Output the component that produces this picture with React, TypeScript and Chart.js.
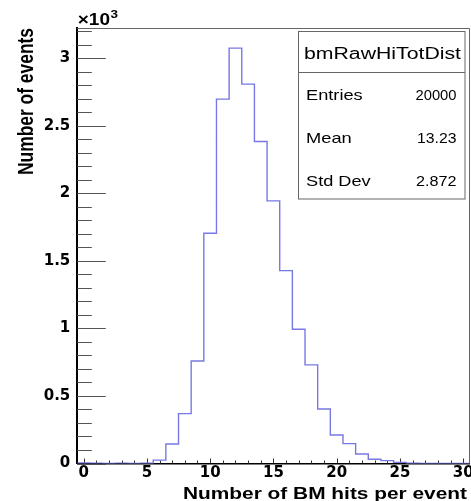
import { useEffect, useRef } from "react";
import { Chart, registerables } from "chart.js";

Chart.register(...registerables);

// ---- data ----
const binCenters = [0, 1, 2, 3, 4, 5, 6, 7, 8, 9, 10, 11, 12, 13, 14, 15, 16, 17, 18, 19, 20, 21, 22, 23, 24, 25, 26, 27, 28, 29, 30];
const binCounts = [4, 3, 1, 3, 1, 2, 25, 144, 369, 759, 1705, 2698, 3075, 2809, 2384, 1944, 1428, 994, 730, 404, 211, 147, 70, 31, 21, 8, 2, 0, 1, 0, 0];
const binWidth = 1;
const xMin = -0.5;
const xMax = 30.5;
const yMin = 0;
const yMax = 3222;
const xLabelValues = [0, 5, 10, 15, 20, 25, 30];
const xMinorStep = 1;
const yLabelValues = [0, 500, 1000, 1500, 2000, 2500, 3000];
const yLabelTexts = ["0", "0.5", "1", "1.5", "2", "2.5", "3"];
const yMinorStep = 100;
const histName = "bmRawHiTotDist";
const statLabels = ["Entries", "Mean", "Std Dev"];
const statValues = ["20000", "13.23", "2.872"];
const xTitle = "Number of BM hits per event";
const yTitle = "Number of events";
const yExponentBase = "\u00d710";
const yExponent = "3";

function drawFit(ctx: CanvasRenderingContext2D, text: string, left: number, baseline: number, width: number, font: string) {
  ctx.save();
  ctx.font = font;
  const w = ctx.measureText(text).width;
  ctx.translate(left, baseline);
  ctx.scale(width / w, 1);
  ctx.textAlign = "left";
  ctx.textBaseline = "alphabetic";
  ctx.fillStyle = "#000";
  ctx.fillText(text, 0, 0);
  ctx.restore();
}

const rootStyle = {
  id: "rootStyle",
  beforeDatasetsDraw(chart: any) {
    const { ctx, chartArea } = chart;
    const xs = chart.scales.x;
    const ys = chart.scales.y;
    ctx.save();
    // frame top and right
    ctx.strokeStyle = "#666";
    ctx.lineWidth = 1;
    ctx.beginPath();
    ctx.moveTo(chartArea.left, Math.round(chartArea.top) + 0.5);
    ctx.lineTo(Math.round(chartArea.right) - 0.5, Math.round(chartArea.top) + 0.5);
    ctx.lineTo(Math.round(chartArea.right) - 0.5, chartArea.bottom);
    ctx.stroke();
    // y ticks (inside)
    ctx.strokeStyle = "#555";
    ctx.lineWidth = 1;
    ys.ticks.forEach((t: any) => {
      const major = yLabelValues.includes(t.value);
      const len = major ? 28.5 : 14.5;
      const y = Math.round(ys.getPixelForValue(t.value)) + 0.5;
      ctx.beginPath();
      ctx.moveTo(chartArea.left, y);
      ctx.lineTo(chartArea.left + len, y);
      ctx.stroke();
    });
    // x ticks (inside)
    ctx.strokeStyle = "#333";
    xs.ticks.forEach((t: any) => {
      const major = xLabelValues.includes(t.value);
      const len = major ? 5 : 3;
      const x = Math.round(xs.getPixelForValue(t.value)) + 0.5;
      ctx.beginPath();
      ctx.moveTo(x, chartArea.bottom);
      ctx.lineTo(x, chartArea.bottom - len);
      ctx.stroke();
    });
    ctx.restore();
  },
  afterDraw(chart: any) {
    const { ctx } = chart;
    ctx.save();
    // stats box
    const bx = 298.5, by = 31.5, bw = 166.5, bh = 167.5;
    ctx.fillStyle = "#fff";
    ctx.fillRect(bx, by, bw, bh);
    ctx.strokeStyle = "#666";
    ctx.lineWidth = 1;
    ctx.strokeRect(bx, by, bw, bh);
    ctx.beginPath();
    ctx.moveTo(bx, 72.5);
    ctx.lineTo(bx + bw, 72.5);
    ctx.stroke();
    const reg = "15px 'Liberation Sans', Arial, sans-serif";
    drawFit(ctx, histName, 304, 59.3, 157, "16px 'Liberation Sans', Arial, sans-serif");
    const rowBase = [100, 142.5, 186];
    const labelW = [56.7, 45.7, 64.7];
    const valW = [41, 39.5, 40.5];
    statLabels.forEach((s, i) => drawFit(ctx, s, 306, rowBase[i], labelW[i], reg));
    statValues.forEach((s, i) => drawFit(ctx, s, 456.5 - valW[i], rowBase[i], valW[i], reg));
    // axis titles
    const bold = (n: number) => `bold ${n}px 'Liberation Sans', Arial, sans-serif`;
    drawFit(ctx, xTitle, 183, 498.5, 284, bold(16.5));
    drawFit(ctx, yExponentBase, 77.7, 25, 32.3, bold(16));
    drawFit(ctx, yExponent, 110.5, 18, 7.5, bold(11));
    // y title rotated
    ctx.save();
    ctx.font = bold(17);
    const w = ctx.measureText(yTitle).width;
    ctx.translate(32.5, 175);
    ctx.rotate(-Math.PI / 2);
    ctx.scale(147 / w, 1.35);
    ctx.fillStyle = "#000";
    ctx.textAlign = "left";
    ctx.textBaseline = "alphabetic";
    ctx.fillText(yTitle, 0, 0);
    ctx.restore();
    ctx.restore();
  },
};

export default function App() {
  const ref = useRef<HTMLCanvasElement | null>(null);

  useEffect(() => {
    if (!ref.current) return;
    // histogram outline: one point at each bin's low edge, held across the bin
    const points = binCenters.map((c, i) => ({ x: c - binWidth / 2, y: binCounts[i] }));
    points.push({ x: binCenters[binCenters.length - 1] + binWidth / 2, y: binCounts[binCounts.length - 1] });

    const xTickVals: number[] = [];
    for (let v = Math.ceil(xMin); v <= xMax; v += xMinorStep) xTickVals.push(v);
    const yTickVals: number[] = [];
    for (let v = yMin; v <= yMax; v += yMinorStep) yTickVals.push(v);

    const tickFont = { family: "'DejaVu Sans', sans-serif", weight: "bold" as const, size: 15 };

    const chart = new Chart(ref.current, {
      type: "line",
      data: {
        datasets: [
          {
            data: points,
            stepped: "before",
            borderColor: "rgb(120,120,228)",
            borderWidth: 1.4,
            pointRadius: 0,
            fill: false,
            tension: 0,
          },
        ],
      },
      options: {
        animation: false,
        responsive: false,
        maintainAspectRatio: false,
        devicePixelRatio: 1,
        layout: { padding: { top: 28.3, right: 1.5, left: 0, bottom: 0 }, autoPadding: false } as any,
        plugins: {
          legend: { display: false },
          tooltip: { enabled: false },
          title: { display: false },
        },
        scales: {
          x: {
            type: "linear",
            min: xMin,
            max: xMax,
            afterBuildTicks: (s: any) => {
              s.ticks = xTickVals.map((v) => ({ value: v }));
            },
            afterFit: (s: any) => {
              s.height = 37.5;
              s.paddingLeft = 0;
              s.paddingRight = 0;
            },
            grid: { display: false, drawTicks: false },
            border: { display: true, color: "#000", width: 1.5 },
            ticks: {
              autoSkip: false,
              maxRotation: 0,
              minRotation: 0,
              padding: 1,
              color: "#000",
              font: tickFont,
              callback: (v: any) => (xLabelValues.includes(Number(v)) ? String(v) : ""),
            },
          },
          y: {
            type: "linear",
            min: yMin,
            max: yMax,
            afterBuildTicks: (s: any) => {
              s.ticks = yTickVals.map((v) => ({ value: v }));
            },
            afterFit: (s: any) => {
              s.width = 77.3;
              s.paddingTop = 0;
              s.paddingBottom = 0;
            },
            grid: { display: false, drawTicks: false },
            border: { display: true, color: "#000", width: 2 },
            ticks: {
              autoSkip: false,
              padding: 7,
              color: "#000",
              font: tickFont,
              callback: (v: any) => {
                const idx = yLabelValues.indexOf(Number(v));
                return idx >= 0 ? yLabelTexts[idx] : "";
              },
            },
          },
        },
      },
      plugins: [rootStyle],
    });
    return () => chart.destroy();
  }, []);

  return (
    <div style={{ position: "fixed", left: 0, top: 0, width: 471, height: 501, background: "#fff" }}>
      <canvas ref={ref} width={471} height={501} style={{ display: "block", width: 471, height: 501 }} />
    </div>
  );
}
